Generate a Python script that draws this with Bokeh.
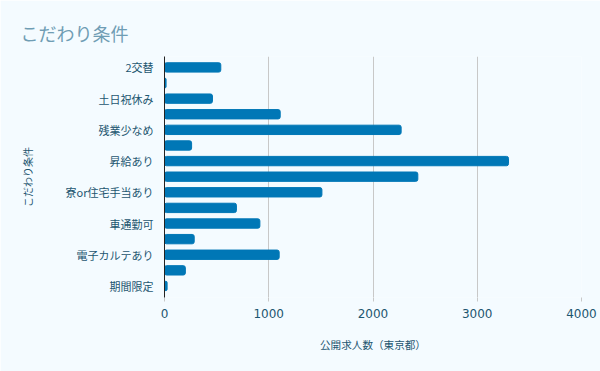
from bokeh.plotting import figure
from bokeh.models import ColumnDataSource, Range1d, FixedTicker
from bokeh.embed import file_html
from bokeh.resources import INLINE

# data (every other category label is not shown in the original)
labels = ["2交替", "", "土日祝休み", "", "残業少なめ", "", "昇給あり", "",
          "寮or住宅手当あり", "", "車通勤可", "", "電子カルテあり", "", "期間限定"]
values = [540, 15, 460, 1110, 2270, 260, 3300, 2430,
          1510, 690, 915, 285, 1100, 200, 25]
x_ticks = [0, 1000, 2000, 3000, 4000]

pos = list(range(1, len(labels) + 1))
src = ColumnDataSource(dict(y=pos, v=values))

FONT = "Noto Sans CJK JP"
BG = "#f4fbff"
TXT = "#1d5670"

p = figure(width=600, height=371, output_backend="svg", toolbar_location=None,
           x_range=Range1d(0, 4000), y_range=Range1d(len(labels) + 0.74, 0.3),
           background_fill_color=BG, border_fill_color=BG, outline_line_color=None,
           min_border_left=164, min_border_right=19, min_border_bottom=74, min_border_top=56)

p.title.text = "こだわり条件"
p.title.text_font = FONT
p.title.text_font_size = "18px"
p.title.text_font_style = "normal"
p.title.text_color = "#6f9db4"
p.title.offset = -144
p.title.standoff = 21

p.hbar(y="y", right="v", left=0, height=0.6, source=src, color="#0077b6",
       border_radius=2)

p.xaxis.ticker = FixedTicker(ticks=x_ticks)
p.xaxis.axis_line_color = None
p.xaxis.major_tick_line_color = "#c8c8c8"
p.xaxis.major_tick_out = 4
p.xaxis.major_tick_in = 0
p.xaxis.minor_tick_line_color = None
p.xaxis.major_label_text_font = "DejaVu Sans"
p.xaxis.major_label_text_font_size = "12px"
p.xaxis.major_label_text_color = TXT
p.xaxis.major_label_standoff = 7
p.xaxis.axis_label = "公開求人数（東京都）"
p.xaxis.axis_label_text_font = FONT
p.xaxis.axis_label_text_font_size = "10.6px"
p.xaxis.axis_label_text_font_style = "normal"
p.xaxis.axis_label_text_color = TXT
p.xaxis.axis_label_standoff = 16

shown = [i for i, l in zip(pos, labels) if l]
p.yaxis.ticker = FixedTicker(ticks=shown)
p.yaxis.major_label_overrides = {i: l for i, l in zip(pos, labels) if l}
p.yaxis.axis_line_color = "#222222"
p.yaxis.major_tick_line_color = None
p.yaxis.minor_tick_line_color = None
p.yaxis.major_label_text_font = FONT
p.yaxis.major_label_text_font_size = "11px"
p.yaxis.major_label_text_color = TXT
p.yaxis.major_label_standoff = 5
p.yaxis.axis_label = "こだわり条件"
p.yaxis.axis_label_text_font = FONT
p.yaxis.axis_label_text_font_size = "10px"
p.yaxis.axis_label_text_font_style = "normal"
p.yaxis.axis_label_text_color = TXT
p.yaxis.axis_label_standoff = 28

p.xgrid.grid_line_color = "#c8c8c8"
p.ygrid.grid_line_color = None

open("out.html", "w").write(file_html(p, INLINE))
